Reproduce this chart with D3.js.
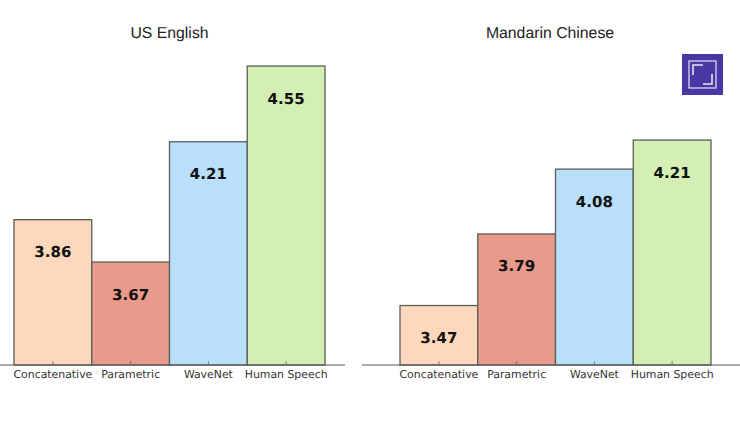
<!DOCTYPE html>
<html>
<head>
<meta charset="utf-8">
<script src="https://cdn.jsdelivr.net/npm/d3@7/dist/d3.min.js"></script>
<style>
html,body{margin:0;padding:0;background:#fff}
svg{display:block}
text{text-rendering:geometricPrecision}
</style>
</head>
<body>
<svg id="c" width="740" height="440"></svg>
<script>
const categories = ["Concatenative", "Parametric", "WaveNet", "Human Speech"];
const englishValues = [3.86, 3.67, 4.21, 4.55];
const mandarinValues = [3.47, 3.79, 4.08, 4.21];
const panelTitles = ["US English", "Mandarin Chinese"];
const barColors = ["#fdd8bc", "#ea9a8b", "#badffa", "#d4efb3"];

const svg = d3.select("#c");
const baseY = 365;

function panel(title, values, x0, x1, ax0, ax1, titleX, yMin, yPerUnit) {
  const y = d3.scaleLinear().domain([yMin, 4.6]).range([baseY, baseY - (4.6 - yMin) * yPerUnit]);
  const x = d3.scaleBand().domain(categories).range([x0, x1]).padding(0);
  const g = svg.append("g");

  g.selectAll("rect").data(values).join("rect")
    .attr("x", (d, i) => x(categories[i]))
    .attr("y", d => y(d))
    .attr("width", x.bandwidth())
    .attr("height", d => baseY - y(d))
    .attr("fill", (d, i) => barColors[i])
    .attr("stroke", "#5a5f5a")
    .attr("stroke-width", 1.3);

  const axis = d3.axisBottom(x).tickSize(-4).tickPadding(5).tickSizeOuter(0);
  const ag = g.append("g").attr("transform", `translate(0,${baseY})`).call(axis);
  ag.select(".domain").remove();
  ag.insert("line", ":first-child")
    .attr("x1", ax0).attr("x2", ax1).attr("y1", 0).attr("y2", 0)
    .attr("stroke", "#555").attr("stroke-width", 1);
  ag.selectAll(".tick line").attr("stroke", "#666").attr("stroke-width", 0.8);
  ag.selectAll(".tick text")
    .attr("font-family", "DejaVu Sans")
    .attr("font-size", 10.9)
    .attr("fill", "#333");

  g.selectAll("text.val").data(values).join("text")
    .attr("class", "val")
    .attr("x", (d, i) => x(categories[i]) + x.bandwidth() / 2)
    .attr("y", d => y(d) + 37.5)
    .attr("text-anchor", "middle")
    .attr("font-family", "DejaVu Sans")
    .attr("font-weight", "bold")
    .attr("font-size", 15)
    .attr("fill", "#111")
    .text(d => d.toFixed(2));

  g.append("text")
    .attr("x", titleX)
    .attr("y", 38)
    .attr("text-anchor", "middle")
    .attr("font-family", "Liberation Sans")
    .attr("font-size", 15.8)
    .attr("fill", "#222")
    .text(title);
}

panel(panelTitles[0], englishValues, 14, 325, 0, 345, 169.5, 3.2075, 222.7);
panel(panelTitles[1], mandarinValues, 400, 711, 362, 740, 550, 3.204, 223.6);

// logo badge
const logo = svg.append("g").attr("transform", "translate(682,54)");
logo.append("rect").attr("width", 41).attr("height", 41).attr("fill", "#4a37a3");
logo.append("rect").attr("x", 7).attr("y", 7).attr("width", 27).attr("height", 27)
  .attr("fill", "none").attr("stroke", "#e6e3f4").attr("stroke-width", 1.2);
logo.append("path").attr("d", "M11 21V11H21M30 20V30H21")
  .attr("fill", "none").attr("stroke", "#e6e3f4").attr("stroke-width", 1.6);
</script>
</body>
</html>
